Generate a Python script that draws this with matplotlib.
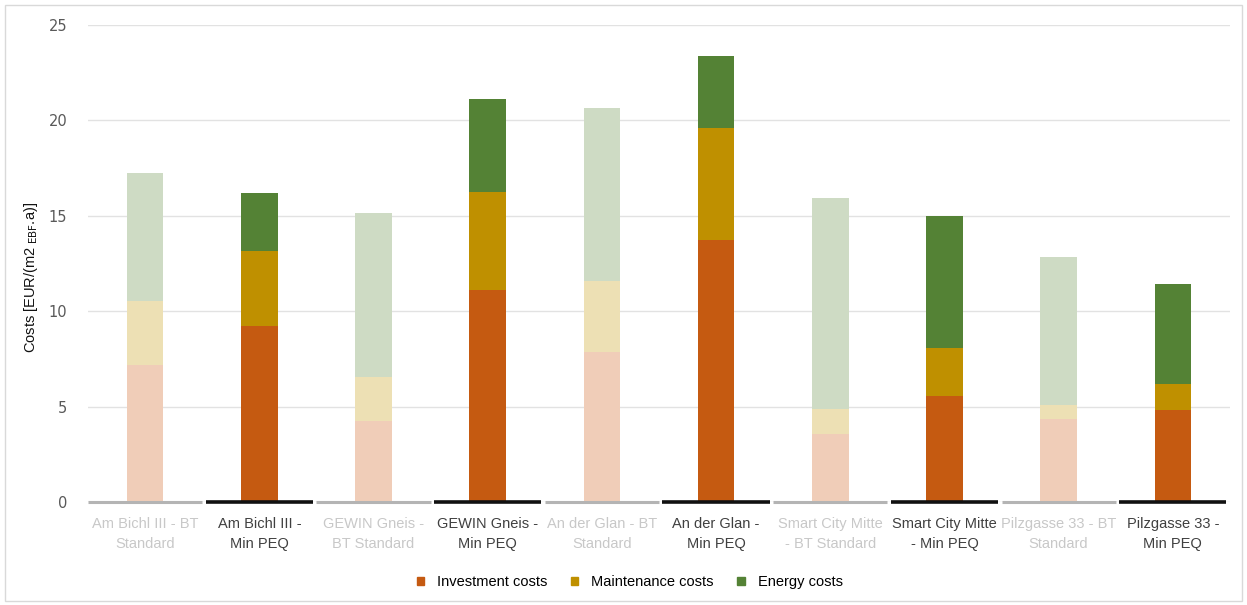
import matplotlib
matplotlib.use("Agg")
from matplotlib import pyplot as plt
from matplotlib.patches import Rectangle, Patch
import numpy as np

# categories (BT Standard = faded, Min PEQ = full colour)
labels = ["Am Bichl III - BT\nStandard", "Am Bichl III -\nMin PEQ",
          "GEWIN Gneis -\nBT Standard", "GEWIN Gneis -\nMin PEQ",
          "An der Glan - BT\nStandard", "An der Glan -\nMin PEQ",
          "Smart City Mitte\n- BT Standard", "Smart City Mitte\n- Min PEQ",
          "Pilzgasse 33 - BT\nStandard", "Pilzgasse 33 -\nMin PEQ"]
min_peq = [False, True, False, True, False, True, False, True, False, True]

# stacked values, EUR/(m2 EBF.a)
investment = [7.2, 9.23, 4.25, 11.12, 7.87, 13.75, 3.57, 5.56, 4.35, 4.8]
maintenance = [3.35, 3.9, 2.31, 5.14, 3.73, 5.87, 1.31, 2.5, 0.76, 1.37]
energy = [6.71, 3.08, 8.6, 4.88, 9.02, 3.73, 11.07, 6.92, 7.74, 5.27]

series = ["Investment costs", "Maintenance costs", "Energy costs"]
full_colors = ["#C55A11", "#BF9000", "#548235"]
faded_colors = ["#F0CDB8", "#EDE0B4", "#CEDBC4"]

fig = plt.figure(figsize=(12.47, 6.05), dpi=100)
ax = fig.add_axes([0.0706, 0.17, 0.9157, 0.789])

x = np.arange(len(labels))
width = 0.32
data = [investment, maintenance, energy]
bottom = np.zeros(len(labels))
for k, vals in enumerate(data):
    vals = np.array(vals)
    cols = [full_colors[k] if p else faded_colors[k] for p in min_peq]
    ax.bar(x, vals, width, bottom=bottom, color=cols, zorder=3)
    bottom += vals

ax.set_xlim(-0.5, len(labels) - 0.5)
ax.set_ylim(0, 25)
ax.set_yticks([0, 5, 10, 15, 20, 25])
ax.yaxis.grid(True, color="#E2E2E2", linewidth=1, zorder=0)
for s in ax.spines.values():
    s.set_visible(False)
ax.tick_params(axis="both", length=0)
ax.tick_params(axis="y", labelsize=10.5, labelcolor="#595959", pad=15)

# baseline segments: grey under BT Standard, black under Min PEQ
for i, p in enumerate(min_peq):
    if p:
        ax.plot([i - 0.47, i + 0.47], [0, 0], color="#111111", lw=2.6,
                zorder=4, solid_capstyle="butt", clip_on=False)
    else:
        ax.plot([i - 0.5, i + 0.5], [0, 0], color="#B4B4B4", lw=2.2,
                zorder=4, solid_capstyle="butt", clip_on=False)

ax.set_xticks(x)
ax.set_xticklabels(labels, fontsize=10.5, linespacing=1.55,
                   family=["Liberation Sans Narrow", "Liberation Sans"])
ax.tick_params(axis="x", pad=11)
for lab, p in zip(ax.get_xticklabels(), min_peq):
    lab.set_color("#404040" if p else "#C8C8C8")

ax.set_ylabel(r"Costs [EUR/(m2$_{\ \mathrm{EBF}}$.a)]", fontsize=10.5,
              family="Liberation Sans", color="#111111", labelpad=4)
ax.yaxis.set_label_coords(-0.042, 0.47)

handles = [Patch(color=c, label=s) for c, s in zip(full_colors, series)]
fig.legend(handles=handles, loc="center", bbox_to_anchor=(0.505, 0.038),
           ncol=3, frameon=False, handlelength=0.5, handleheight=0.5,
           columnspacing=1.6, handletextpad=0.9,
           prop={"family": ["Liberation Sans Narrow", "Liberation Sans"], "size": 10.5})

fig.patches.append(Rectangle((0.004, 0.006), 0.992, 0.985, transform=fig.transFigure,
                             fill=False, edgecolor="#D9D9D9", linewidth=1))

fig.savefig("out.png", dpi=100)
